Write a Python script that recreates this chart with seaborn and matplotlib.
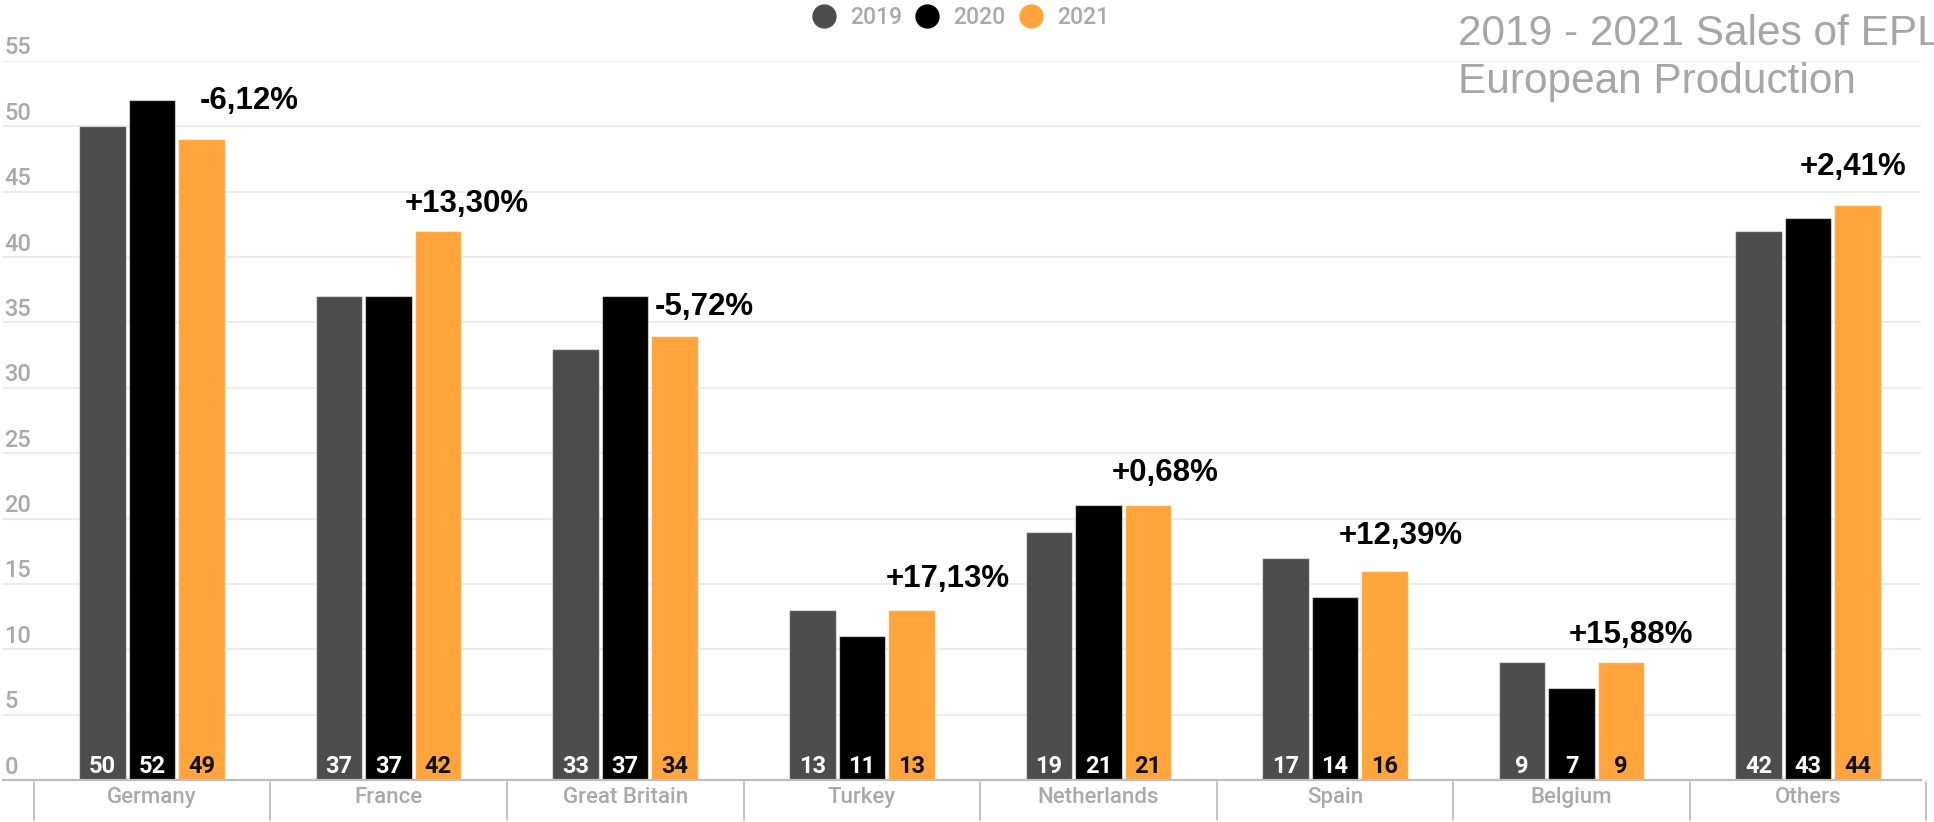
import pandas as pd
import seaborn as sns
import matplotlib.pyplot as plt
from matplotlib.lines import Line2D
from matplotlib.transforms import ScaledTranslation, blended_transform_factory

# ---- data ----
countries = ["Germany", "France", "Great Britain", "Turkey",
             "Netherlands", "Spain", "Belgium", "Others"]
years = ["2019", "2020", "2021"]
sales_2019 = [50, 37, 33, 13, 19, 17, 9, 42]
sales_2020 = [52, 37, 37, 11, 21, 14, 7, 43]
sales_2021 = [49, 42, 34, 13, 21, 16, 9, 44]
change_labels = ["-6,12%", "+13,30%", "-5,72%", "+17,13%",
                 "+0,68%", "+12,39%", "+15,88%", "+2,41%"]
y_ticks = list(range(0, 56, 5))

# placement of the change labels (pixels from the top centre of the 2021 bar)
change_dx = [48, 29, 30, 36, 17, 16, 10, -5]
change_dy = [30, 19, 21, 23, 24, 27, 19, 30]

colors = {"2019": "#4d4d4d", "2020": "#000000", "2021": "#ffa53b"}
value_text_colors = {"2019": "white", "2020": "white", "2021": "#111111"}
grey_text = "#a9a9a9"

df = pd.DataFrame({
    "country": countries * 3,
    "year": [y for y in years for _ in countries],
    "value": sales_2019 + sales_2020 + sales_2021,
})

sns.set_theme(style="white")
plt.rcParams["font.family"] = ["Roboto", "DejaVu Sans"]

W, H = 1934, 822
fig = plt.figure(figsize=(W / 100, H / 100), dpi=100)
ax = fig.add_axes([3 / W, 42 / H, (1921 - 3) / W, 719 / H])

sns.barplot(data=df, x="country", y="value", hue="year",
            order=countries, hue_order=years, palette=colors,
            width=0.628, gap=0.06, saturation=1, errorbar=None,
            legend=False, ax=ax)

for p in ax.patches:
    p.set_edgecolor((1, 1, 1, 0.55))
    p.set_linewidth(0.9)

ax.set_xlim(-0.63, 7.477)
ax.set_ylim(0, 55)
ax.set_xlabel("")
ax.set_ylabel("")

# grid and axis lines
ax.set_axisbelow(True)
ax.grid(axis="y", color="#ececec", linewidth=1.5)
ax.grid(axis="x", visible=False)
for s in ["left", "right", "top"]:
    ax.spines[s].set_visible(False)
ax.spines["bottom"].set_color("#bdbdbd")
ax.spines["bottom"].set_linewidth(1.6)

# y tick labels sit just above their gridlines on the left
ax.set_yticks(y_ticks)
ax.set_yticklabels([str(t) for t in y_ticks])
ax.tick_params(axis="y", length=0, pad=0, labelsize=17, labelcolor=grey_text)
for lab in ax.get_yticklabels():
    lab.set_ha("left")
    lab.set_va("baseline")
    lab.set_fontweight(500)
    lab.set_transform(lab.get_transform() +
                      ScaledTranslation(1.5 / 100, 6.5 / 100, fig.dpi_scale_trans))

ax.tick_params(axis="x", length=0, pad=5, labelsize=16, labelcolor=grey_text)
for lab in ax.get_xticklabels():
    lab.set_fontweight(500)

# category separators below the axis
sep_tr = blended_transform_factory(ax.transData, ax.transAxes)
for k in range(len(countries) + 1):
    ax.plot([k - 0.5, k - 0.5], [-0.003, -0.056], transform=sep_tr,
            color="#bdbdbd", linewidth=1.3, clip_on=False)

# values at the foot of each bar
for year, cont in zip(years, ax.containers):
    for bar in cont:
        v = bar.get_height()
        ax.annotate(f"{v:.0f}", (bar.get_x() + bar.get_width() / 2, 0),
                    xytext=(0, 5.2), textcoords="offset points",
                    ha="center", va="baseline", fontsize=17,
                    fontweight="bold", color=value_text_colors[year])

# year-on-year change above the 2021 bars
for bar, txt, dx, dy in zip(ax.containers[2], change_labels, change_dx, change_dy):
    ax.annotate(txt, (bar.get_x() + bar.get_width() / 2, bar.get_height()),
                xytext=(dx * 0.72, dy * 0.72), textcoords="offset points",
                ha="center", va="baseline", fontsize=22.5, fontweight="bold",
                family=["Liberation Sans", "DejaVu Sans"], color="black")

# legend
handles = [Line2D([], [], linestyle="none", marker="o", markersize=16.5,
                  markerfacecolor=colors[y], markeredgecolor=colors[y])
           for y in years]
leg = fig.legend(handles, years, loc="center", bbox_to_anchor=(961 / W, 1 - 18 / H),
                 ncol=3, frameon=False, handlelength=1.0, handletextpad=0.64,
                 columnspacing=0.6, fontsize=16.5, labelcolor=grey_text,
                 borderpad=0, borderaxespad=0)
for t in leg.get_texts():
    t.set_fontweight(500)

# title in the upper right corner
fig.text(1458 / W, 1 - 45 / H, "2019 - 2021 Sales of EPL", fontsize=30.5,
         color="#a6a6a6", family=["Liberation Sans", "DejaVu Sans"],
         ha="left", va="baseline")
fig.text(1458 / W, 1 - 93 / H, "European Production", fontsize=30.5,
         color="#a6a6a6", family=["Liberation Sans", "DejaVu Sans"],
         ha="left", va="baseline")

fig.savefig("out.png", dpi=100)
